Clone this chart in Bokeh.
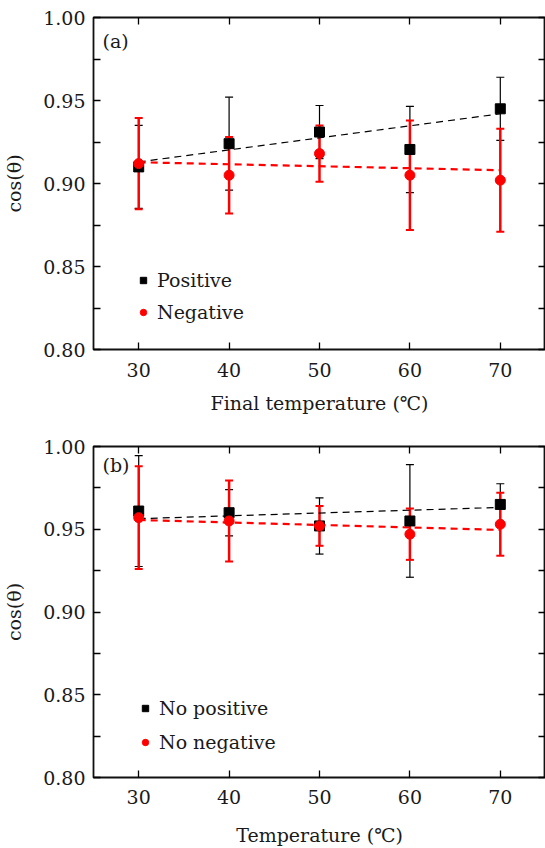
from bokeh.plotting import figure
from bokeh.models import (ColumnDataSource, Whisker, TeeHead, Legend, LegendItem,
                          LinearAxis, Label, FixedTicker, Range1d, NumeralTickFormatter,
                          CustomJSTickFormatter)
from bokeh.layouts import column
from bokeh.embed import file_html
from bokeh.resources import INLINE

temps = [30, 40, 50, 60, 70]
a_pos = [0.910, 0.924, 0.931, 0.9205, 0.945]
a_pos_err = [0.025, 0.028, 0.016, 0.026, 0.019]
a_neg = [0.912, 0.905, 0.918, 0.905, 0.902]
a_neg_err = [0.0275, 0.023, 0.017, 0.033, 0.031]
b_pos = [0.961, 0.960, 0.952, 0.955, 0.965]
b_pos_err = [0.0335, 0.014, 0.017, 0.034, 0.0125]
b_neg = [0.957, 0.955, 0.952, 0.947, 0.953]
b_neg_err = [0.031, 0.0245, 0.012, 0.0155, 0.019]
fit_x = [30, 70]
a_pos_fit = [0.913, 0.942]
a_neg_fit = [0.9128, 0.908]
b_pos_fit = [0.9564, 0.9632]
b_neg_fit = [0.9556, 0.9496]

y_ticks = [0.80, 0.85, 0.90, 0.95, 1.00]
y_minor = [0.825, 0.875, 0.925, 0.975]

FONT = "DejaVu Serif"
FS = "19px"
TXT = "#1a1a1a"


def make_panel(pos, pos_err, neg, neg_err, pos_fit, neg_fit, labels, xlabel, tag,
               height, top, bottom, leg_loc, leg_spacing, tag_y, tick_standoff, xl_standoff):
    p = figure(width=545, height=height, x_range=Range1d(25, 75), y_range=Range1d(0.8, 1.0),
               output_backend="svg", toolbar_location=None,
               min_border_left=92, min_border_right=0, min_border_top=top,
               min_border_bottom=bottom)
    p.xgrid.visible = False
    p.ygrid.visible = False
    p.outline_line_color = "#111111"
    p.outline_line_width = 1.8
    p.outline_line_alpha = 1

    xt = FixedTicker(ticks=temps, minor_ticks=[])
    yt = FixedTicker(ticks=y_ticks, minor_ticks=y_minor)
    p.xaxis.ticker = xt
    p.yaxis.ticker = yt
    p.yaxis.formatter = NumeralTickFormatter(format="0.00")
    for ax in (p.xaxis[0], p.yaxis[0]):
        ax.major_tick_in = 7
        ax.major_tick_out = 0
        ax.minor_tick_in = 7
        ax.minor_tick_out = 0
        ax.major_tick_line_width = 1.3
        ax.minor_tick_line_width = 1.3
        ax.axis_line_color = None
        ax.major_label_text_font = FONT
        ax.major_label_text_font_size = FS
        ax.major_label_text_color = TXT
        ax.axis_label_text_font = FONT
        ax.axis_label_text_font_size = FS
        ax.axis_label_text_font_style = "normal"
        ax.axis_label_text_color = TXT
    p.xaxis.axis_label = xlabel
    p.yaxis.axis_label = "cos(θ)"
    p.xaxis.major_label_standoff = tick_standoff
    p.xaxis.axis_label_standoff = xl_standoff
    p.yaxis.major_label_standoff = 8
    p.yaxis.axis_label_standoff = 15

    blank = CustomJSTickFormatter(code="return ''")
    for loc, tk in (("above", xt), ("right", yt)):
        ax = LinearAxis(ticker=tk, formatter=blank,
                        major_tick_in=7, major_tick_out=0, minor_tick_in=7, minor_tick_out=0,
                        major_tick_line_width=1.3, minor_tick_line_width=1.3,
                        axis_line_color=None, major_label_standoff=0)
        p.add_layout(ax, loc)

    p.line(fit_x, pos_fit, line_color="black", line_width=1.2, line_dash="7 5")
    p.line(fit_x, neg_fit, line_color="#ff0000", line_width=2.2, line_dash="7 5")

    src_p = ColumnDataSource(dict(x=temps, y=pos,
                                  lo=[v - e for v, e in zip(pos, pos_err)],
                                  up=[v + e for v, e in zip(pos, pos_err)]))
    src_n = ColumnDataSource(dict(x=temps, y=neg,
                                  lo=[v - e for v, e in zip(neg, neg_err)],
                                  up=[v + e for v, e in zip(neg, neg_err)]))
    p.add_layout(Whisker(base="x", lower="lo", upper="up", source=src_p,
                         line_color="black", line_width=1.2,
                         upper_head=TeeHead(size=8, line_color="black", line_width=1.2),
                         lower_head=TeeHead(size=8, line_color="black", line_width=1.2)))
    p.add_layout(Whisker(base="x", lower="lo", upper="up", source=src_n,
                         line_color="#ff0000", line_width=2.5,
                         upper_head=TeeHead(size=8, line_color="#ff0000", line_width=2),
                         lower_head=TeeHead(size=8, line_color="#ff0000", line_width=2)))
    sq = p.scatter("x", "y", source=src_p, marker="square", size=10,
                   fill_color="black", line_color="black")
    ci = p.scatter("x", "y", source=src_n, marker="circle", size=10,
                   fill_color="#ff0000", line_color="#ff0000")

    leg = Legend(items=[LegendItem(label=labels[0], renderers=[sq]),
                        LegendItem(label=labels[1], renderers=[ci])],
                 location=leg_loc, border_line_color=None, background_fill_alpha=0,
                 padding=0, glyph_width=16, glyph_height=20, label_standoff=6,
                 spacing=leg_spacing, label_text_font=FONT, label_text_font_size=FS,
                 label_text_color=TXT)
    p.add_layout(leg)
    p.add_layout(Label(x=26.0, y=tag_y, text=tag, text_font=FONT, text_font_size=FS,
                       text_baseline="middle", text_align="left", text_color=TXT))
    return p


pa = make_panel(a_pos, a_pos_err, a_neg, a_neg_err, a_pos_fit, a_neg_fit,
                ["Positive", "Negative"], "Final temperature (℃)", "(a)",
                430, 17, 81, (42, 26), 10, 0.986, 13, 12)
pb = make_panel(b_pos, b_pos_err, b_neg, b_neg_err, b_pos_fit, b_neg_fit,
                ["No positive", "No negative"], "Temperature (℃)", "(b)",
                418, 16, 69, (44, 24), 12, 0.989, 12, 17)

layout = column(pa, pb, spacing=0)
open("out.html", "w").write(file_html(layout, INLINE))
